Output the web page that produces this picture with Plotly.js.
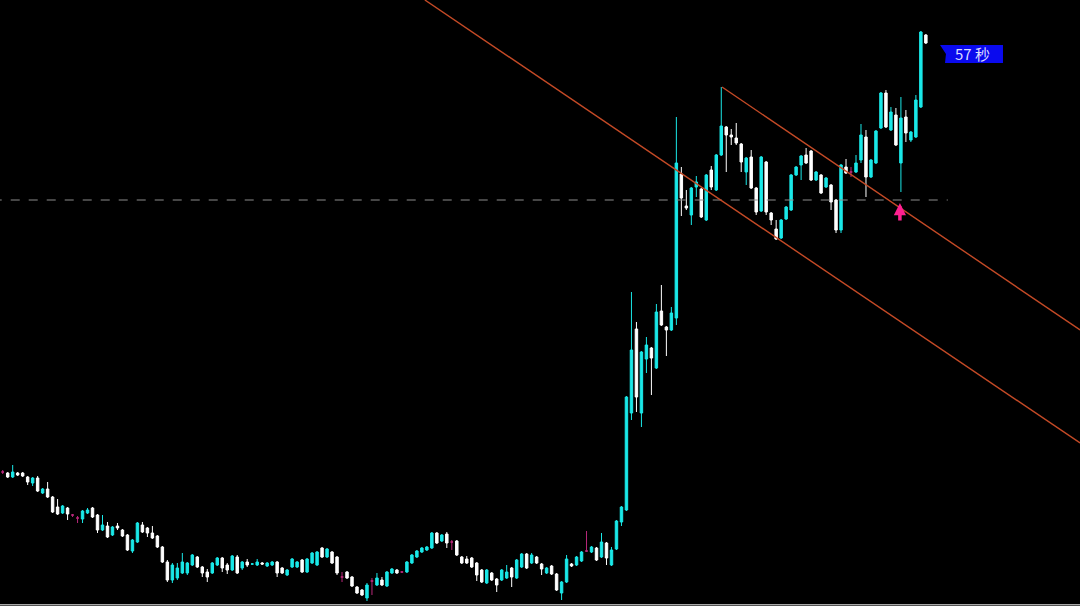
<!DOCTYPE html>
<html>
<head>
<meta charset="utf-8">
<script src="https://cdn.plot.ly/plotly-3.0.1.min.js"></script>
<style>html,body{margin:0;padding:0;background:#000;}#chart{width:1080px;height:606px;}</style>
</head>
<body>
<div id="chart"></div>
<script>
// Candle values (arbitrary price units), one per bar
const open = [134,133,129,133,133,129,123,128,113,117,
109,99,93,98,91,88,87,93,98,91,
76,80,71,80,76,71,55,64,81,78,
73,70,59,44,26,28,33,33,41,49,
39,34,33,41,48,41,36,49,38,44,
42,41,43,40,41,44,38,31,39,39,
46,34,43,41,58,49,54,49,29,34,
29,19,16,8,25,21,26,20,33,36,
34,34,43,49,54,56,58,73,65,72,
64,65,49,47,48,43,36,23,33,27,
26,28,38,28,39,52,43,49,42,33,
40,32,13,24,42,41,45,55,54,58,
49,63,41,57,84,96,193,277,193,247,
258,238,295,279,276,288,432,400,391,419,
417,386,436,416,451,479,471,468,462,434,
449,418,395,444,393,377,368,387,396,431,
441,451,455,426,431,419,421,406,376,439,
434,434,446,469,429,443,478,513,476,491,
443,489,466,469,499,571];
const high = [136,134,141,134,134,130,129,130,118,124,
110,107,101,99,92,90,96,98,99,92,
91,84,80,83,77,72,67,84,84,79,
80,71,60,46,43,43,53,44,52,50,
40,37,44,49,49,43,51,51,45,47,
43,47,44,44,45,45,39,37,48,45,
47,48,54,55,59,58,55,50,34,35,
30,20,17,23,28,33,29,35,38,37,
35,45,52,56,59,60,74,74,72,74,
66,66,50,50,49,44,37,37,34,28,
37,41,39,47,53,53,53,50,43,39,
41,33,25,51,43,50,55,75,60,59,
73,64,59,86,100,210,314,284,255,269,
259,302,321,280,299,489,439,416,419,430,
418,432,440,452,519,480,477,483,463,449,
456,419,450,445,394,386,387,400,432,440,
451,458,456,435,432,429,422,407,442,447,
439,451,482,476,447,476,514,516,499,498,
509,496,475,511,575,572];
const low = [132,128,128,130,129,121,120,114,112,108,
93,91,92,86,89,83,83,92,88,73,
75,68,70,76,69,55,53,63,73,69,
67,58,43,24,23,26,32,31,40,38,
29,24,32,40,34,32,35,32,36,39,
41,40,41,39,40,29,32,30,38,38,
33,33,42,40,48,48,42,31,24,27,
19,12,10,5,11,20,20,19,32,32,
33,33,42,48,53,55,57,62,64,58,
56,50,42,42,38,25,23,22,25,14,
25,27,19,27,38,37,42,42,31,32,
31,15,6,23,39,40,44,54,53,45,
48,41,40,56,80,95,186,194,179,233,
211,237,280,250,275,281,390,396,381,409,
388,385,416,415,450,434,461,461,434,421,
417,391,394,391,381,366,367,386,395,430,
426,442,425,425,412,418,396,373,373,432,
429,433,443,409,428,442,477,478,475,460,
414,464,464,468,498,562];
const close = [134,129,134,131,130,124,128,115,117,109,
94,92,100,92,91,88,95,96,89,76,
81,69,79,78,70,56,66,83,74,73,
68,59,44,26,41,38,44,43,51,39,
33,29,43,48,38,36,50,33,44,41,
42,44,42,43,44,33,33,36,47,44,
34,47,53,54,49,57,43,33,29,28,
20,13,11,21,25,28,21,34,37,33,
34,44,51,55,58,59,73,63,71,63,
64,51,43,43,39,31,24,36,26,21,
36,34,29,46,52,38,51,43,37,38,
32,16,24,47,40,49,54,55,59,46,
64,48,56,85,99,209,256,209,254,261,
248,294,281,276,293,443,408,398,418,424,
389,431,419,451,480,471,469,463,444,448,
418,394,449,394,386,367,386,399,431,439,
450,443,426,434,413,428,404,376,441,433,
434,443,471,429,446,475,513,479,494,461,
488,473,474,506,574,563];
// bars drawn in magenta (doji-like)
const pinkIdx = [0,14,15,68,74,80,90,117,170];
// channel lines and reference level
const lowerLineX = [84.6, 215.9], lowerLineY = [606, 163];
const upperLineX = [144.15, 215.9], upperLineY = [519, 276];
const refLevel = 406, refLevelEnd = 189.4;
const signalBar = 179.8, signalLevel = 403;
const timerLabel = '57 秒';

const CYAN = '#1ae8e8', WHITE = '#ffffff', PINK = '#b8287a';
const xIdx = open.map((_, i) => i);
const pinkSet = new Set(pinkIdx);
const mainI = xIdx.filter(i => !pinkSet.has(i));
const pick = (arr, ids) => ids.map(i => arr[i]);

function candle(ids, upC, dnC) {
  return {
    type: 'candlestick',
    x: pick(xIdx, ids), open: pick(open, ids), high: pick(high, ids),
    low: pick(low, ids), close: pick(close, ids),
    increasing: {line: {color: upC, width: 1}, fillcolor: upC},
    decreasing: {line: {color: dnC, width: 1}, fillcolor: dnC},
    whiskerwidth: 0, hoverinfo: 'none', showlegend: false
  };
}

const data = [candle(mainI, CYAN, WHITE), candle(pinkIdx, PINK, PINK)];

const LINE = '#c44a26';
const layout = {
  width: 1080, height: 606,
  margin: {l: 0, r: 0, t: 0, b: 0},
  paper_bgcolor: '#000', plot_bgcolor: '#000',
  showlegend: false,
  xaxis: {range: [-0.541, 215.89], visible: false, rangeslider: {visible: false}, fixedrange: true},
  yaxis: {range: [0, 606], visible: false, fixedrange: true},
  shapes: [
    {type: 'line', xref: 'x', yref: 'y', x0: -2, x1: refLevelEnd, y0: refLevel, y1: refLevel,
     line: {color: '#8c8c8c', width: 1, dash: 'dash'}},
    {type: 'line', xref: 'x', yref: 'y', x0: lowerLineX[0], x1: lowerLineX[1], y0: lowerLineY[0], y1: lowerLineY[1],
     line: {color: LINE, width: 1.4}},
    {type: 'line', xref: 'x', yref: 'y', x0: upperLineX[0], x1: upperLineX[1], y0: upperLineY[0], y1: upperLineY[1],
     line: {color: LINE, width: 1.4}},
    {type: 'line', xref: 'paper', yref: 'paper', x0: 0, x1: 1, y0: 0.002, y1: 0.002,
     line: {color: '#a8a8a8', width: 1.5}},
    {type: 'path', xref: 'paper', yref: 'paper',
     path: 'M 0.8704 0.9257 L 0.9287 0.9257 L 0.9287 0.8960 L 0.8750 0.8960 L 0.8759 0.9109 Z',
     fillcolor: '#0a0aee', line: {width: 0}}
  ],
  annotations: [
    {xref: 'paper', yref: 'paper', x: 0.9005, y: 0.9109, text: timerLabel, showarrow: false,
     xanchor: 'center', yanchor: 'middle',
     font: {family: 'Noto Sans CJK SC, DejaVu Sans, sans-serif', size: 15, color: '#dcdcff'}},
    {xref: 'x', yref: 'y', x: signalBar, y: signalLevel, text: '', showarrow: true,
     ax: 0, ay: 19, arrowhead: 2, arrowsize: 0.7, arrowwidth: 3.5, arrowcolor: '#ff2090'}
  ]
};

Plotly.newPlot('chart', data, layout, {staticPlot: true, displayModeBar: false});
</script>
</body>
</html>
